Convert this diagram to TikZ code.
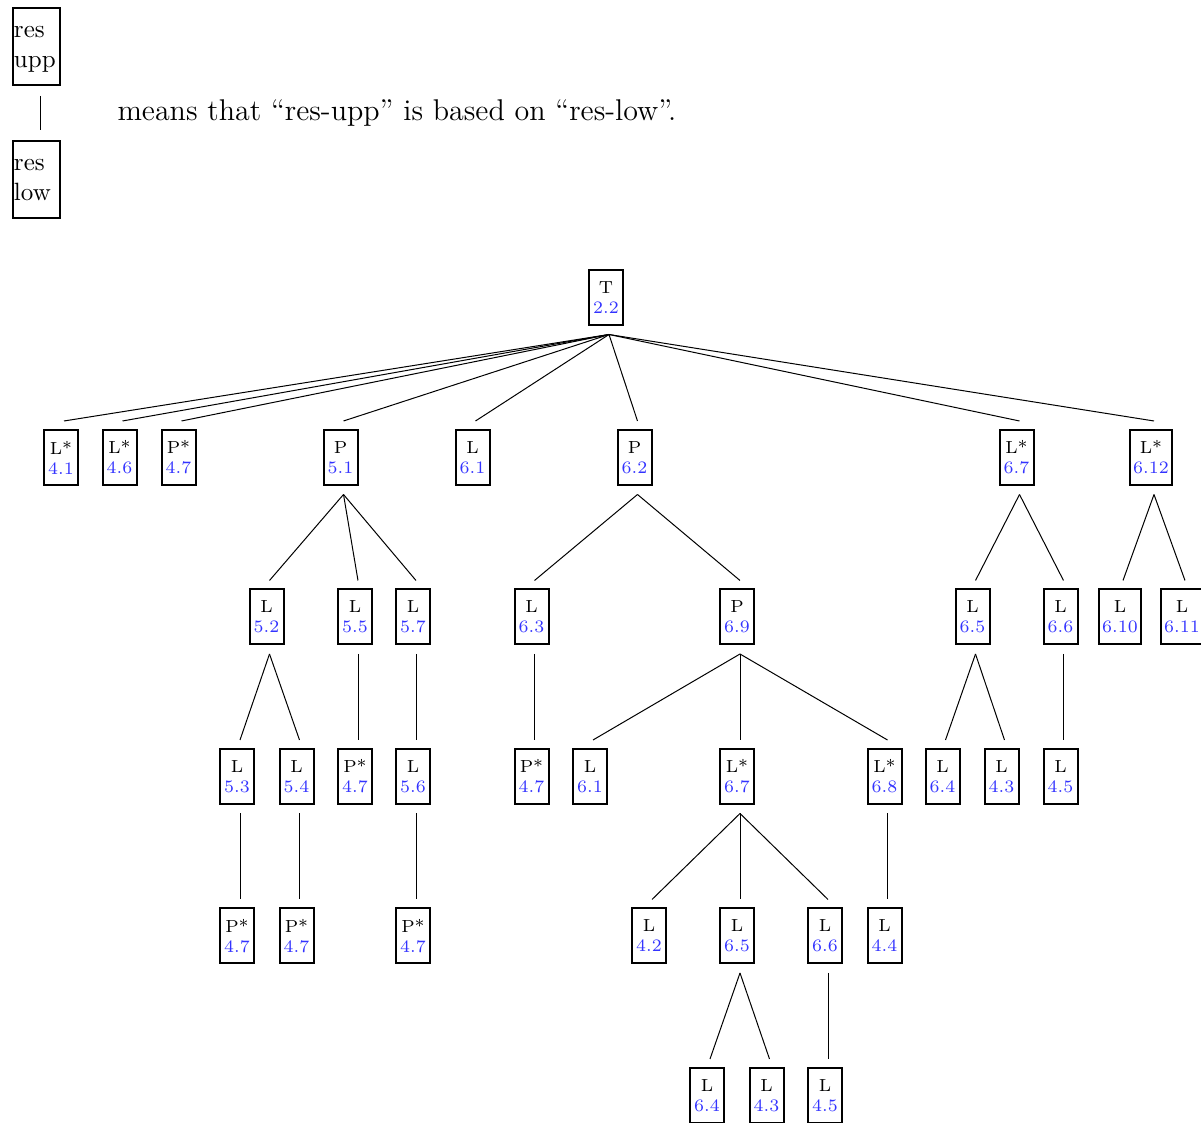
\documentclass[tikz,border=0pt]{standalone}
\usetikzlibrary{calc}
\definecolor{numblue}{RGB}{51,51,255}
\tikzset{
  box/.style={draw, line width=0.8pt, font=\scriptsize, align=center,
    minimum width=13.6pt, minimum height=22pt, inner xsep=1.2pt, inner ysep=2pt},
  legbox/.style={draw, line width=0.9pt, align=left, text width=18pt,
    inner xsep=0.35pt, minimum height=29.5pt},
  link/.style={line width=0.4pt},
}
\newcommand{\bx}[4]{\node[box] (#1) at (#2) {#3\\\textcolor{numblue}{#4}};}
\newcommand{\lk}[2]{\draw[link] ($(#1.south)+(3,8.5)$) -- ($(#2.north)+(3,-8)$);}
\newcommand{\legtext}[2]{\begin{tabular}{@{}l@{}}#1\\#2\end{tabular}}
\begin{document}
\begin{tikzpicture}[x=0.4pt,y=-0.4pt]
\useasboundingbox (0,0) rectangle (1201,1123);
% legend
\node[legbox] (upp) at (36.5,46.5) {\legtext{res}{upp}};
\node[legbox] (low) at (36.5,179.5) {\legtext{res}{low}};
\draw[link] ($(upp.south)+(4,10)$) -- ($(low.north)+(4,-10)$);
\node[anchor=base west, inner sep=0pt, font=\large] (cap) at (117,121) {means that ``res-upp'' is based on ``res-low''.};
% level 0
\bx{t}{606,297.5}{T}{2.2}
% level 1
\bx{a41}{61,457.5}{L*}{4.1}
\bx{a46}{119.5,457.5}{L*}{4.6}
\bx{a47}{178.5,457.5}{P*}{4.7}
\bx{a51}{340.5,457.5}{P}{5.1}
\bx{a61}{472.5,457.5}{L}{6.1}
\bx{a62}{634.5,457.5}{P}{6.2}
\bx{a67}{1016.5,457.5}{L*}{6.7}
\bx{a612}{1151,457.5}{L*}{6.12}
% level 2
\bx{b52}{266.5,617}{L}{5.2}
\bx{b55}{355,617}{L}{5.5}
\bx{b57}{413,617}{L}{5.7}
\bx{b63}{531.5,617}{L}{6.3}
\bx{b69}{737,617}{P}{6.9}
\bx{b65}{972.5,617}{L}{6.5}
\bx{b66}{1060.5,617}{L}{6.6}
\bx{b610}{1120,617}{L}{6.10}
\bx{b611}{1182,617}{L}{6.11}
% level 3
\bx{c53}{237,776.5}{L}{5.3}
\bx{c54}{296.5,776.5}{L}{5.4}
\bx{c47a}{355,776.5}{P*}{4.7}
\bx{c56}{413,776.5}{L}{5.6}
\bx{c47b}{531.5,776.5}{P*}{4.7}
\bx{c61}{590,776.5}{L}{6.1}
\bx{c67}{737,776.5}{L*}{6.7}
\bx{c68}{884.5,776.5}{L*}{6.8}
\bx{c64}{942.5,776.5}{L}{6.4}
\bx{c43}{1001.5,776.5}{L}{4.3}
\bx{c45}{1060.5,776.5}{L}{4.5}
% level 4
\bx{d47a}{237,936}{P*}{4.7}
\bx{d47b}{296.5,936}{P*}{4.7}
\bx{d47c}{413,936}{P*}{4.7}
\bx{d42}{649,936}{L}{4.2}
\bx{d65}{737,936}{L}{6.5}
\bx{d66}{825,936}{L}{6.6}
\bx{d44}{884.5,936}{L}{4.4}
% level 5
\bx{e64}{707,1095.5}{L}{6.4}
\bx{e43}{766.5,1095.5}{L}{4.3}
\bx{e45}{825,1095.5}{L}{4.5}
% links
\foreach \c in {a41,a46,a47,a51,a61,a62,a67,a612} {\lk{t}{\c}}
\lk{a51}{b52}\lk{a51}{b55}\lk{a51}{b57}
\lk{b52}{c53}\lk{b52}{c54}
\lk{b55}{c47a}
\lk{b57}{c56}
\lk{c53}{d47a}\lk{c54}{d47b}\lk{c56}{d47c}
\lk{a62}{b63}\lk{a62}{b69}
\lk{b63}{c47b}
\lk{b69}{c61}\lk{b69}{c67}\lk{b69}{c68}
\lk{c67}{d42}\lk{c67}{d65}\lk{c67}{d66}
\lk{c68}{d44}
\lk{d65}{e64}\lk{d65}{e43}
\lk{d66}{e45}
\lk{a67}{b65}\lk{a67}{b66}
\lk{a612}{b610}\lk{a612}{b611}
\lk{b65}{c64}\lk{b65}{c43}
\lk{b66}{c45}
\end{tikzpicture}
\end{document}
